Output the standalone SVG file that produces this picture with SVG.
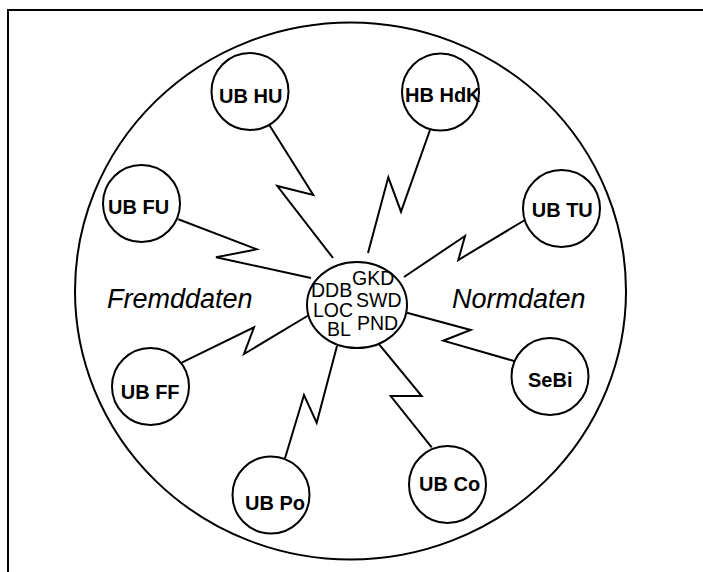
<svg xmlns="http://www.w3.org/2000/svg" width="703" height="572" viewBox="0 0 703 572">
<style>
.ln{fill:none;stroke:#000;stroke-width:2;stroke-linejoin:miter}
.nd{fill:#fff;stroke:#000;stroke-width:2}
.lb{font-family:"Liberation Sans",Arial,sans-serif;font-weight:bold;font-size:20px;fill:#000}
.ct{font-family:"Liberation Sans",Arial,sans-serif;font-size:19.5px;fill:#000}
.it{font-family:"Liberation Sans",Arial,sans-serif;font-style:italic;font-size:27px;fill:#000}
</style>
<rect width="703" height="572" fill="#fff"/>
<g id="frame">
<path class="ln" d="M8,572 V10 H703"/>
</g>
<g id="outer">
<ellipse class="ln" cx="350.5" cy="291" rx="275.5" ry="268.5"/>
<text class="it" x="107" y="308">Fremddaten</text>
<text class="it" x="452" y="308">Normdaten</text>
</g>
<g id="connectors">
<polyline class="ln" points="269.3,125 313.3,195 277.3,186 333,258"/>
<polyline class="ln" points="430,130 401,211.7 388.3,177.3 368,253"/>
<polyline class="ln" points="178.3,219.3 256.7,249.3 216,257.3 311,278"/>
<polyline class="ln" points="525,220 458.3,260 465,236 404,277"/>
<polyline class="ln" points="181.7,362.7 254,327.3 244,354 309,315"/>
<polyline class="ln" points="514,361 443.3,340.7 470.7,330 406,312.5"/>
<polyline class="ln" points="431.7,447.3 390.7,396 421.7,396 378.3,343.3"/>
<polyline class="ln" points="285,458.3 304,395 316.7,422.7 337,346"/>
</g>
<g id="center">
<ellipse class="nd" cx="357" cy="305" rx="50" ry="43"/>
<text class="ct" x="311" y="297">DDB</text>
<text class="ct" x="352" y="285">GKD</text>
<text class="ct" x="356" y="307">SWD</text>
<text class="ct" x="313" y="317">LOC</text>
<text class="ct" x="357" y="330">PND</text>
<text class="ct" x="327" y="336">BL</text>
</g>
<g id="ub-hu">
<circle class="nd" cx="250" cy="91.5" r="38.5"/>
<text class="lb" x="219" y="102.5">UB HU</text>
</g>
<g id="hb-hdk">
<circle class="nd" cx="440.5" cy="92" r="38.5"/>
<text class="lb" x="405" y="101.7">HB HdK</text>
</g>
<g id="ub-fu">
<circle class="nd" cx="141.5" cy="203.5" r="38.5"/>
<text class="lb" x="108" y="214">UB FU</text>
</g>
<g id="ub-tu">
<circle class="nd" cx="561.5" cy="208.5" r="38.5"/>
<text class="lb" x="531.7" y="216.7">UB TU</text>
</g>
<g id="ub-ff">
<circle class="nd" cx="150.5" cy="386.5" r="38.5"/>
<text class="lb" x="120.7" y="399">UB FF</text>
</g>
<g id="sebi">
<circle class="nd" cx="550" cy="376.5" r="38.5"/>
<text class="lb" x="528" y="386.7">SeBi</text>
</g>
<g id="ub-po">
<circle class="nd" cx="271" cy="495" r="38.5"/>
<text class="lb" x="245" y="510">UB Po</text>
</g>
<g id="ub-co">
<circle class="nd" cx="447.5" cy="484.5" r="38.5"/>
<text class="lb" x="419" y="490.7">UB Co</text>
</g>
</svg>
